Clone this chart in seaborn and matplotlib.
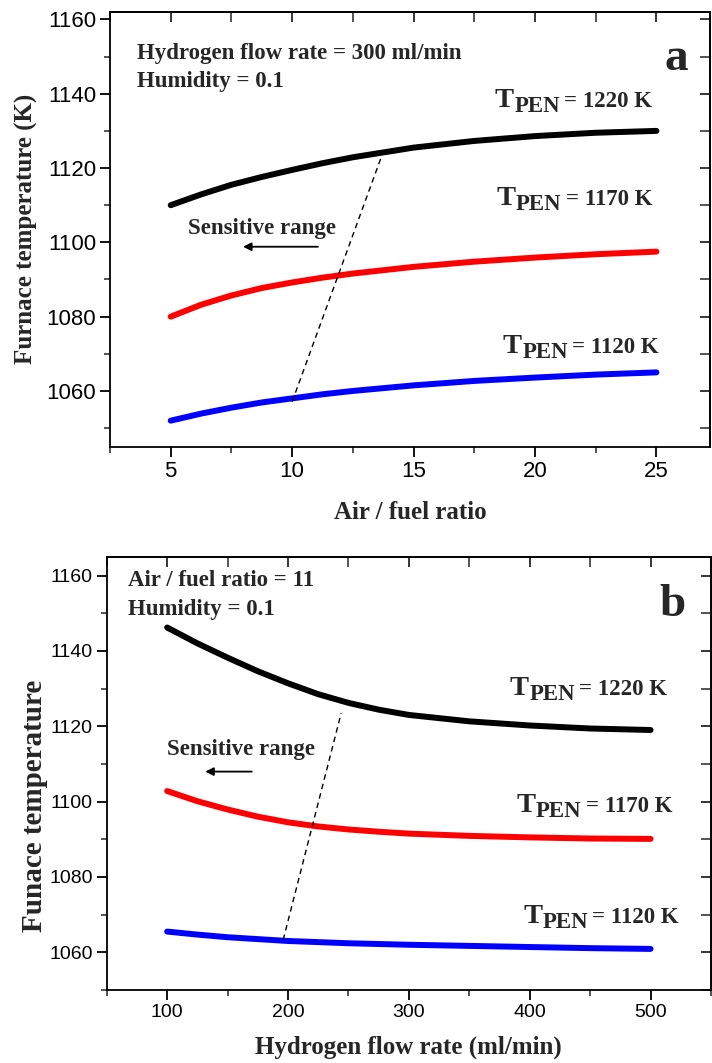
import numpy as np
import pandas as pd
import matplotlib
matplotlib.use("Agg")
import matplotlib.pyplot as plt
from matplotlib.ticker import MultipleLocator
import seaborn as sns

# ---------------- data ----------------
# Panel a: furnace temperature vs air/fuel ratio
air_fuel = [5, 6.25, 7.5, 8.75, 10, 11.25, 12.5, 15, 17.5, 20, 22.5, 25]
a_1220 = [1110, 1112.9, 1115.5, 1117.6, 1119.5, 1121.3, 1122.9, 1125.5, 1127.3, 1128.6, 1129.5, 1130]
a_1170 = [1080, 1083.2, 1085.7, 1087.7, 1089.2, 1090.5, 1091.6, 1093.4, 1094.8, 1095.9, 1096.8, 1097.5]
a_1120 = [1052, 1053.9, 1055.5, 1056.9, 1058, 1059.1, 1060, 1061.5, 1062.7, 1063.6, 1064.4, 1065]
a_dash_x = [10, 13.7]
a_dash_y = [1057.1, 1123.5]

# Panel b: furnace temperature vs hydrogen flow rate
h2_flow = [100, 125, 150, 175, 200, 225, 250, 275, 300, 350, 400, 450, 500]
b_1220 = [1146.2, 1142, 1138.2, 1134.6, 1131.4, 1128.5, 1126.2, 1124.4, 1123.0, 1121.3, 1120.2, 1119.4, 1119.0]
b_1170 = [1102.8, 1100.1, 1097.9, 1096.0, 1094.5, 1093.4, 1092.6, 1092.0, 1091.5, 1090.9, 1090.5, 1090.2, 1090.1]
b_1120 = [1065.5, 1064.7, 1064.0, 1063.5, 1063.0, 1062.7, 1062.4, 1062.2, 1062.0, 1061.7, 1061.4, 1061.1, 1060.9]
b_dash_x = [196, 244]
b_dash_y = [1063.3, 1123.5]

series_labels = ["1220", "1170", "1120"]
palette = {"1220": "black", "1170": "red", "1120": "blue"}

# ---------------- style ----------------
sns.set_theme(style="ticks")
plt.rcParams["font.family"] = ["Liberation Sans", "DejaVu Sans"]
plt.rcParams["axes.linewidth"] = 1.3
SERIF = ["Liberation Serif", "DejaVu Serif"]


def long_df(x, ys):
    rows = []
    for lab, y in zip(series_labels, ys):
        for xi, yi in zip(x, y):
            rows.append({"x": xi, "y": yi, "T": lab})
    return pd.DataFrame(rows)


fig = plt.figure(figsize=(7.12, 10.63), dpi=100)
ax_a = fig.add_axes([0.1545, 0.5798, 0.8425, 0.4089])
ax_b = fig.add_axes([0.1499, 0.0687, 0.8487, 0.4076])


def style_axes(ax, xmaj, xmin, ymaj, ymin, lsize):
    ax.xaxis.set_major_locator(MultipleLocator(xmaj))
    ax.xaxis.set_minor_locator(MultipleLocator(xmin))
    ax.yaxis.set_major_locator(MultipleLocator(ymaj))
    ax.yaxis.set_minor_locator(MultipleLocator(ymin))
    ax.tick_params(which="major", direction="out", length=7, width=1.3,
                   labelsize=lsize, pad=3, colors="black")
    ax.tick_params(which="minor", direction="out", length=4, width=1.1)
    for s in ax.spines.values():
        s.set_visible(True)
        s.set_color("black")
    top = ax.secondary_xaxis("top")
    top.xaxis.set_major_locator(MultipleLocator(xmaj))
    top.xaxis.set_minor_locator(MultipleLocator(xmin))
    top.tick_params(which="major", direction="in", length=7, width=1.3, labeltop=False)
    top.tick_params(which="minor", direction="in", length=7, width=1.1)
    right = ax.secondary_yaxis("right")
    right.yaxis.set_major_locator(MultipleLocator(ymaj))
    right.yaxis.set_minor_locator(MultipleLocator(ymin))
    right.tick_params(which="major", direction="in", length=7, width=1.3, labelright=False)
    right.tick_params(which="minor", direction="in", length=7, width=1.1)


def tpen(ax, fx, fy, value, big=20.5, small=16.5):
    t = ax.text(fx, fy, "T", transform=ax.transAxes, fontsize=big,
                fontweight="bold", family=SERIF, va="baseline", ha="left")
    s = ax.annotate("PEN", xy=(1, fy), xycoords=(t, ax.transAxes),
                    xytext=(0.3, -3.5), textcoords="offset points",
                    fontsize=small, fontweight="bold", family=SERIF,
                    va="baseline", ha="left")
    ax.annotate(f"= {value} K", xy=(1, fy), xycoords=(s, ax.transAxes),
                xytext=(3, 0), textcoords="offset points",
                fontsize=small, fontweight="bold", family=SERIF,
                va="baseline", ha="left")


lw = 4.3
TXT = 16.5

# ---------------- panel a ----------------
df_a = long_df(air_fuel, [a_1220, a_1170, a_1120])
sns.lineplot(data=df_a, x="x", y="y", hue="T", palette=palette, ax=ax_a,
             legend=False, linewidth=lw, solid_capstyle="round", estimator=None)
ax_a.plot(a_dash_x, a_dash_y, color="black", lw=1.0, dashes=(4, 3))
ax_a.set_xlim(2.5, 27.2)
ax_a.set_ylim(1045, 1162)
style_axes(ax_a, 5, 2.5, 20, 10, 16)
ax_a.set_xlabel("Air / fuel ratio", fontsize=18, fontweight="bold", family=SERIF)
ax_a.set_ylabel("Furnace temperature (K)", fontsize=18, fontweight="bold", family=SERIF)
ax_a.xaxis.set_label_coords(0.5, -0.1525)
ax_a.xaxis.label.set_va("center")
ax_a.yaxis.set_label_coords(-0.14, 0.5)
ax_a.yaxis.label.set_va("center")

ax_a.text(0.0445, 0.9057, "Hydrogen flow rate = 300 ml/min", transform=ax_a.transAxes,
          fontsize=TXT, fontweight="bold", family=SERIF, va="center", ha="left")
ax_a.text(0.0445, 0.841, "Humidity = 0.1", transform=ax_a.transAxes,
          fontsize=TXT, fontweight="bold", family=SERIF, va="center", ha="left")
ax_a.text(0.9445, 0.8666, "a", transform=ax_a.transAxes, fontsize=34,
          fontweight="bold", family=SERIF, va="baseline", ha="center")
tpen(ax_a, 0.6417, 0.7822, 1220)
tpen(ax_a, 0.6445, 0.556, 1170)
tpen(ax_a, 0.655, 0.2155, 1120)
ax_a.text(0.13, 0.503, "Sensitive range", transform=ax_a.transAxes,
          fontsize=TXT, fontweight="bold", family=SERIF, va="center", ha="left")
ax_a.annotate("", xy=(0.2217, 0.46), xytext=(0.3467, 0.46),
              xycoords="axes fraction", textcoords="axes fraction",
              arrowprops=dict(arrowstyle="-|>", color="black", lw=1.3,
                              mutation_scale=12, shrinkA=0, shrinkB=0))

# ---------------- panel b ----------------
df_b = long_df(h2_flow, [b_1220, b_1170, b_1120])
sns.lineplot(data=df_b, x="x", y="y", hue="T", palette=palette, ax=ax_b,
             legend=False, linewidth=lw, solid_capstyle="round", estimator=None)
ax_b.plot(b_dash_x, b_dash_y, color="black", lw=1.0, dashes=(4, 3))
ax_b.set_xlim(50, 550)
ax_b.set_ylim(1050, 1165)
style_axes(ax_b, 100, 50, 20, 10, 14)
ax_b.set_xlabel("Hydrogen flow rate (ml/min)", fontsize=18, fontweight="bold", family=SERIF)
ax_b.set_ylabel("Funace temperature", fontsize=21, fontweight="bold", family=SERIF)
ax_b.xaxis.set_label_coords(0.5, -0.1316)
ax_b.xaxis.label.set_va("center")
ax_b.yaxis.set_label_coords(-0.12, 0.4246)
ax_b.yaxis.label.set_va("center")

ax_b.text(0.0352, 0.946, "Air / fuel ratio = 11", transform=ax_b.transAxes,
          fontsize=TXT, fontweight="bold", family=SERIF, va="center", ha="left")
ax_b.text(0.0352, 0.877, "Humidity = 0.1", transform=ax_b.transAxes,
          fontsize=TXT, fontweight="bold", family=SERIF, va="center", ha="left")
ax_b.text(0.9355, 0.863, "b", transform=ax_b.transAxes, fontsize=34,
          fontweight="bold", family=SERIF, va="baseline", ha="center")
tpen(ax_b, 0.667, 0.681, 1220)
tpen(ax_b, 0.678, 0.4115, 1170)
tpen(ax_b, 0.689, 0.1546, 1120)
ax_b.text(0.0993, 0.554, "Sensitive range", transform=ax_b.transAxes,
          fontsize=TXT, fontweight="bold", family=SERIF, va="center", ha="left")
ax_b.annotate("", xy=(0.163, 0.504), xytext=(0.24, 0.504),
              xycoords="axes fraction", textcoords="axes fraction",
              arrowprops=dict(arrowstyle="-|>", color="black", lw=1.3,
                              mutation_scale=12, shrinkA=0, shrinkB=0))

fig.savefig("out.png", dpi=100, facecolor="white")
